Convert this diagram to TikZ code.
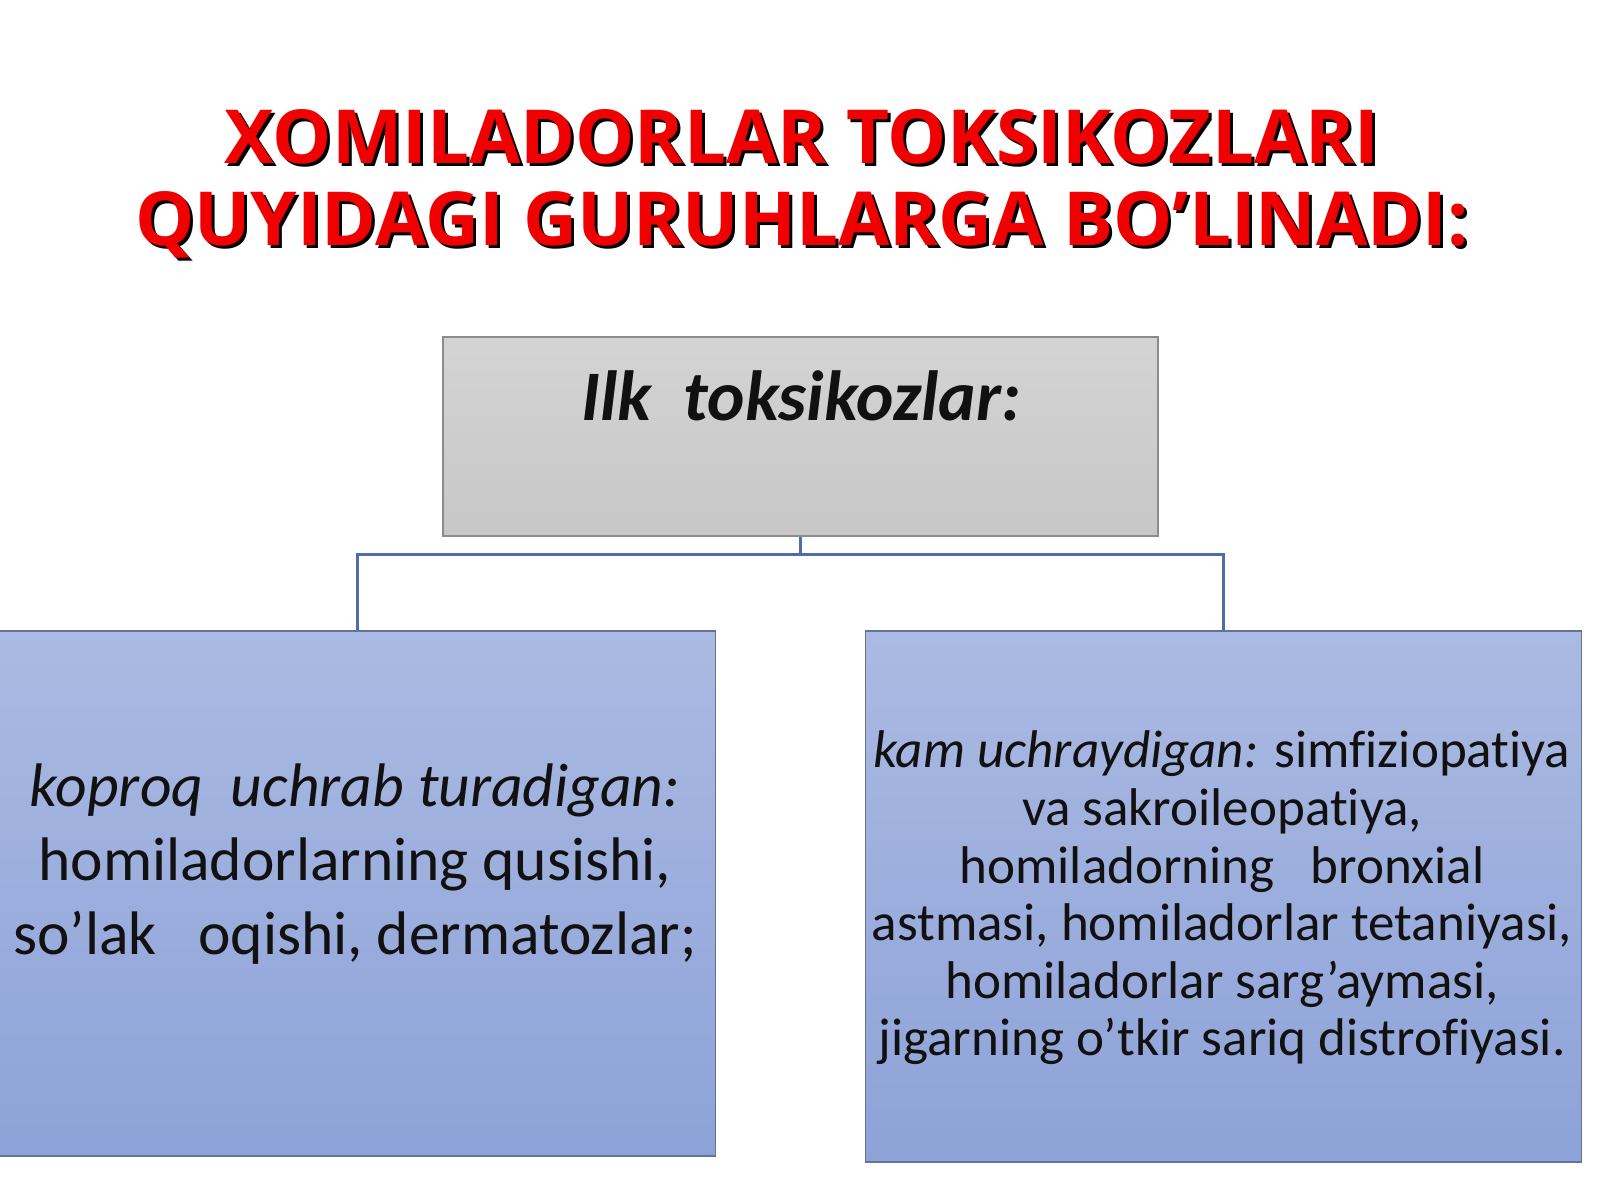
\documentclass[tikz,border=0pt]{standalone}
\usepackage{fontspec}
\setmainfont{Carlito}[Ligatures=NoCommon]
\newfontfamily\headfont{Open Sans}
\usetikzlibrary{positioning}

\definecolor{headred}{HTML}{F00000}
\definecolor{linkblue}{HTML}{4F6DA8}
\definecolor{inktext}{HTML}{111111}

\tikzset{
    toptitle/.style={font=\headfont\bfseries\fontsize{21.2}{23.5}\selectfont, align=center, inner sep=0pt},
    greybox/.style={draw=black!45, top color=black!17, bottom color=black!22, minimum width=7.15cm, minimum height=1.99cm, inner sep=0pt},
    bluebox/.style={draw=linkblue!60!gray, top color={rgb,255:red,171;green,186;blue,226}, bottom color={rgb,255:red,141;green,162;blue,216}, minimum width=7.16cm, inner sep=0pt},
    boxtext/.style={text=inktext, align=center, inner sep=0pt}
}

\begin{document}
\begin{tikzpicture}
    \useasboundingbox[fill=white](0,0)rectangle(16,12);

    % title with its shadow
    \node[toptitle, text=black](titleshadow)at(8.05,10.13){XOMILADORLAR TOKSIKOZLARI\\QUYIDAGI GURUHLARGA BO’LINADI:};
    \node[toptitle, text=headred](title)at(8.02,10.16){XOMILADORLAR TOKSIKOZLARI\\QUYIDAGI GURUHLARGA BO’LINADI:};

    % boxes
    \node[greybox](ilk)at(8.005,7.635){};
    \node[bluebox, minimum height=5.25cm](often)at(3.575,3.065){};
    \node[bluebox, minimum height=5.31cm](rare)at(12.235,3.035){};

    % connectors
    \draw[linkblue, line width=0.8pt](ilk.south)--++(0,-0.18)-|(often.north);
    \draw[linkblue, line width=0.8pt](ilk.south)--++(0,-0.18)-|(rare.north);

    % texts
    \node[boxtext, font=\bfseries\itshape\fontsize{20.2}{24}\selectfont, anchor=base](ilktext)at(8.01,7.80){Ilk\ \ toksikozlar:};
    \node[boxtext, font=\fontsize{17.5}{21}\selectfont](oftentext)at(3.55,3.36){\textit{koproq\ \ uchrab turadigan:}\\homiladorlarning qusishi,\\so’lak\ \ \ oqishi, dermatozlar;};
    \node[boxtext, font=\fontsize{15.1}{16.4}\selectfont](raretext)at(12.22,3.02){\textit{kam uchraydigan:} simfiziopatiya\\va sakroileopatiya,\\homiladorning\ \ \ bronxial\\astmasi, homiladorlar tetaniyasi,\\homiladorlar sarg’aymasi,\\jigarning o’tkir sariq distrofiyasi.};
\end{tikzpicture}
\end{document}
